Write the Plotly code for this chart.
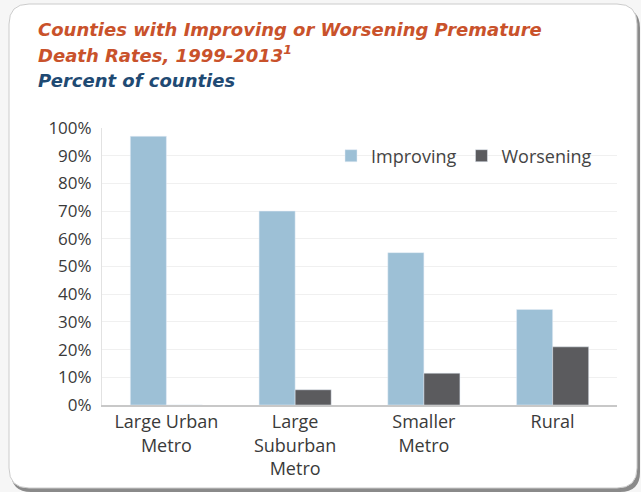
import plotly.graph_objects as go

categories = ["Large Urban<br>Metro", "Large<br>Suburban<br>Metro", "Smaller<br>Metro", "Rural"]
improving = [97, 70, 55, 34.5]
worsening = [0, 5.5, 11.5, 21]
tick_vals = [0, 10, 20, 30, 40, 50, 60, 70, 80, 90, 100]
tick_text = [f"{v}%" for v in tick_vals]

W, H = 641, 492
L, R, T, B = 102, 24, 128, 87
pw, ph = W - L - R, H - T - B

def px(x):
    return (x - L) / pw

def py(y):
    return (H - B - y) / ph

def rounded(x0, y0, x1, y1, r):
    rx, ry = r / pw, r / ph
    X0, X1, Y0, Y1 = px(x0), px(x1), py(y0), py(y1)  # Y0 top, Y1 bottom
    return (f"M {X0+rx},{Y0} L {X1-rx},{Y0} Q {X1},{Y0} {X1},{Y0-ry} "
            f"L {X1},{Y1+ry} Q {X1},{Y1} {X1-rx},{Y1} L {X0+rx},{Y1} "
            f"Q {X0},{Y1} {X0},{Y1+ry} L {X0},{Y0-ry} Q {X0},{Y0} {X0+rx},{Y0} Z")

fig = go.Figure()
fig.add_trace(go.Bar(name="Improving", x=categories, y=improving, marker_color="#9DC0D6"))
fig.add_trace(go.Bar(name="Worsening", x=categories, y=worsening, marker_color="#5B5B5E"))

font = "'Open Sans', sans-serif"
tfont = "'DejaVu Sans', sans-serif"
fig.update_layout(
    width=W, height=H,
    margin=dict(l=L, r=R, t=T, b=B),
    paper_bgcolor="#f6f6f6",
    plot_bgcolor="rgba(0,0,0,0)",
    barmode="group", bargap=0.44, bargroupgap=0,
    font=dict(family=font, size=16, color="#3a3a3a"),
    showlegend=True,
    legend=dict(orientation="h", x=px(331), y=py(156), xanchor="left", yanchor="middle",
                font=dict(size=18, color="#444"), bgcolor="rgba(0,0,0,0)",
                itemwidth=30, tracegroupgap=0),
    xaxis=dict(showline=True, linecolor="#c8c8c8", linewidth=1.5, ticks="",
               tickfont=dict(size=18, color="#3a3a3a")),
    yaxis=dict(range=[0, 100], tickvals=tick_vals, ticktext=tick_text,
               showgrid=True, gridcolor="#f0f0f0", zeroline=False,
               showline=True, linecolor="#e2e2e2", linewidth=1, ticks="",
               ticklabelstandoff=6,
               tickfont=dict(size=17, color="#3a3a3a")),
    shapes=[
        dict(type="path", xref="paper", yref="paper", path=rounded(11, 8, 640, 492, 20),
             fillcolor="#8a8a8a", line=dict(width=0), layer="below"),
        dict(type="path", xref="paper", yref="paper", path=rounded(9, 4, 637, 488, 20),
             fillcolor="#ffffff", line=dict(color="#cccccc", width=1), layer="below"),
    ],
    annotations=[
        dict(text="<b><i>Counties with Improving or Worsening Premature</i></b>",
             xref="paper", yref="paper", x=px(36), y=py(17), xanchor="left", yanchor="top",
             align="left", showarrow=False, font=dict(size=18, color="#C9522B", family=tfont)),
        dict(text="<b><i>Death Rates, 1999-2013<sup>1</sup></i></b>",
             xref="paper", yref="paper", x=px(36), y=py(40), xanchor="left", yanchor="top",
             align="left", showarrow=False, font=dict(size=18, color="#C9522B", family=tfont)),
        dict(text="<b><i>Percent of counties</i></b>",
             xref="paper", yref="paper", x=px(36), y=py(68), xanchor="left", yanchor="top",
             align="left", showarrow=False, font=dict(size=18, color="#1F4A73", family=tfont)),
    ],
)

fig.write_html("out.html", config={"displayModeBar": False},
               post_script="document.body.style.margin='0';document.body.style.overflow='hidden';")
